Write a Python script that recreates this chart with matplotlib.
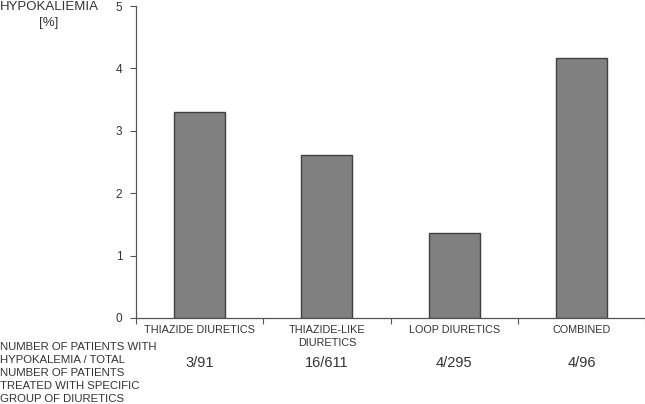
import numpy as np
import matplotlib
matplotlib.use('Agg')
import matplotlib.pyplot as plt

matplotlib.rcParams['font.family'] = ['Liberation Sans', 'DejaVu Sans']

# ============================================================
# 数据
# ============================================================
categories = ['THIAZIDE DIURETICS', 'THIAZIDE-LIKE\nDIURETICS', 'LOOP DIURETICS', 'COMBINED']
hypo_pct   = [3.30, 2.62, 1.36, 4.17]
ratios     = ['3/91', '16/611', '4/295', '4/96']
yticks     = [0, 1, 2, 3, 4, 5]

TXT = '#333333'

fig = plt.figure(figsize=(6.45, 4.04), dpi=100)
ax = fig.add_axes([0.211, 0.213, 0.789, 0.772])

x = np.arange(len(categories))
ax.bar(x, hypo_pct, width=0.4, color='#808080', edgecolor='#404040', linewidth=1.0)

ax.set_xlim(-0.5, len(categories) - 0.5)
ax.set_ylim(0, 5)
ax.set_yticks(yticks)
ax.set_yticklabels([str(t) for t in yticks], fontsize=8.5, color=TXT)
ax.tick_params(axis='y', direction='out', length=4, width=0.8, color='#555555', pad=6)

# category boundary ticks on x axis
ax.set_xticks(np.arange(len(categories) + 1) - 0.5)
ax.set_xticklabels([])
ax.tick_params(axis='x', direction='out', length=4, width=0.8, color='#555555')

for s in ['top', 'right']:
    ax.spines[s].set_visible(False)
for s in ['left', 'bottom']:
    ax.spines[s].set_color('#555555')
    ax.spines[s].set_linewidth(0.9)

# category labels and ratios
for i, (c, r) in enumerate(zip(categories, ratios)):
    ax.text(i, -0.12, c, ha='center', va='top', fontsize=7.8, color=TXT,
            linespacing=1.3)
    ax.text(i, -0.73, r, ha='center', va='center', fontsize=10.5, color=TXT)

# y axis label at top-left
fig.text(49 / 645, 1 - 1 / 404, 'HYPOKALIEMIA\n[%]', ha='center', va='top',
         fontsize=9.5, color=TXT, linespacing=1.45)

# left side description
desc = ('NUMBER OF PATIENTS WITH\nHYPOKALEMIA / TOTAL\nNUMBER OF PATIENTS\n'
        'TREATED WITH SPECIFIC\nGROUP OF DIURETICS')
fig.text(0.0, 1 - 342 / 404, desc, ha='left', va='top', fontsize=8.2,
         color=TXT, linespacing=1.36)

plt.savefig('out.png', dpi=100)
